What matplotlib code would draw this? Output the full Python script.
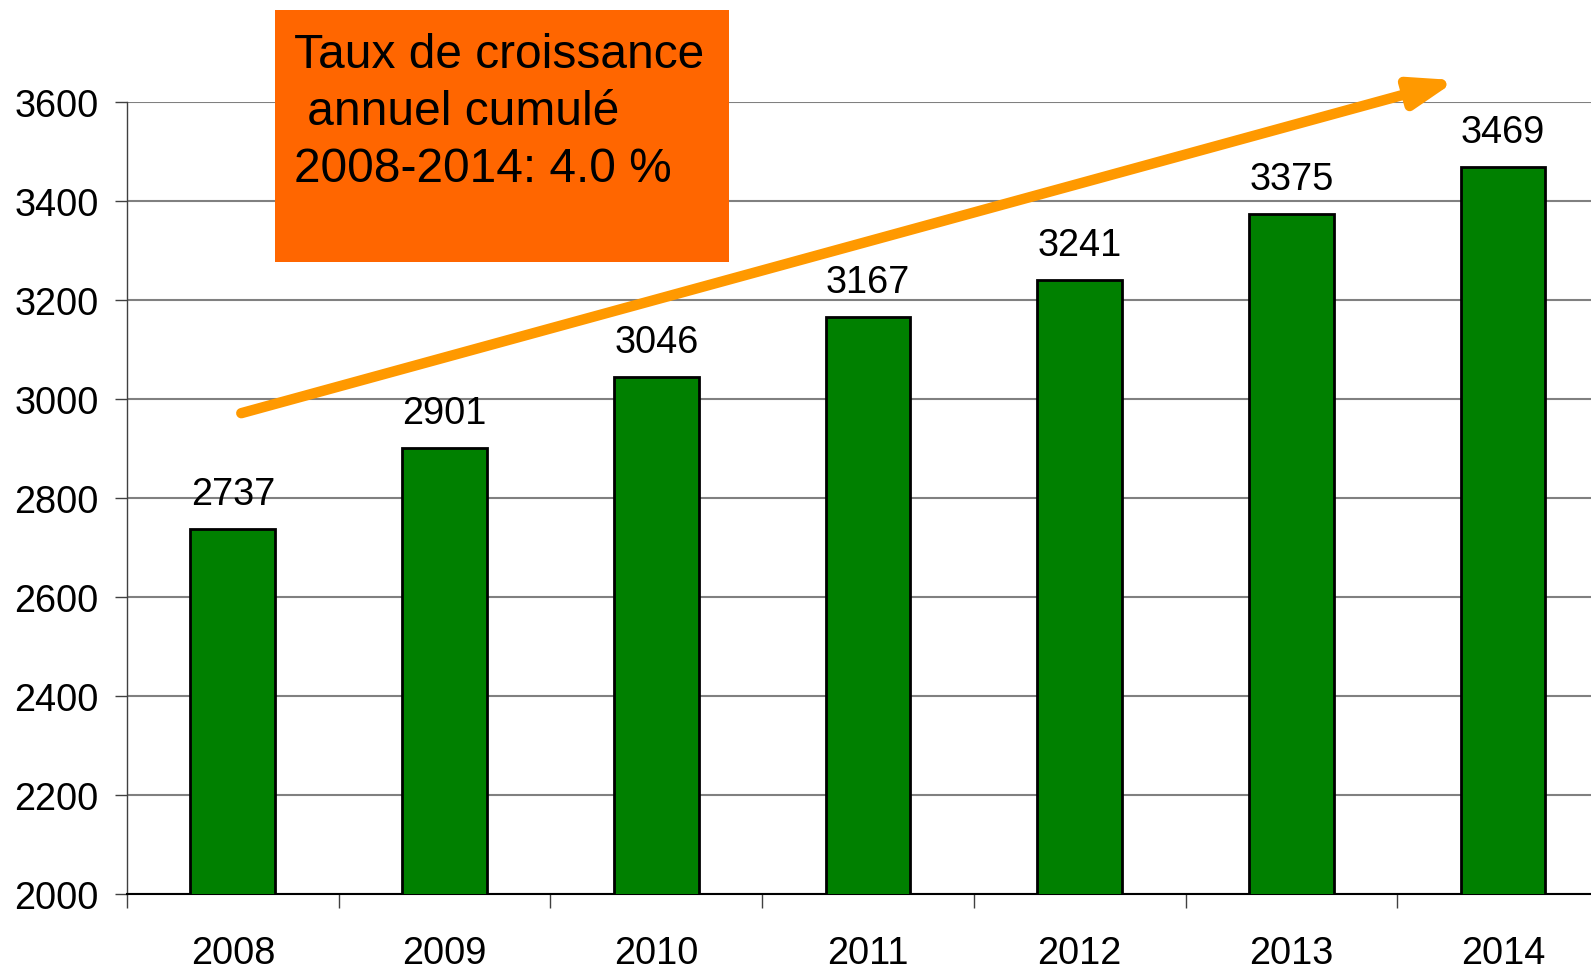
import matplotlib.pyplot as plt
from matplotlib.patches import Rectangle

years = ['2008', '2009', '2010', '2011', '2012', '2013', '2014']
values = [2737, 2901, 3046, 3167, 3241, 3375, 3469]
y_ticks = [2000, 2200, 2400, 2600, 2800, 3000, 3200, 3400, 3600]
box_lines = ['Taux de croissance', ' annuel cumulé', '2008-2014: 4.0 %']

plt.rcParams['font.family'] = ['Liberation Sans', 'DejaVu Sans']

fig = plt.figure(figsize=(15.91, 9.70), dpi=100)
ax = fig.add_axes([0.0798, 0.0773, 0.9315, 0.816])

x = list(range(len(years)))
ax.bar(x, values, width=0.4, color='#008000', edgecolor='black', linewidth=2, zorder=3)

ax.set_xlim(-0.5, len(years) - 0.5)
ax.set_ylim(2000, 3600)
ax.set_yticks(y_ticks)
ax.set_yticklabels([str(t) for t in y_ticks], fontsize=27.4)
ax.tick_params(axis='y', length=8.5, width=1, color='#404040', pad=12)

# category labels centred, ticks on boundaries
ax.set_xticks(x)
ax.set_xticklabels(years, fontsize=27.4)
ax.tick_params(axis='x', which='major', length=0, pad=29.5)
ax.set_xticks([i - 0.5 for i in range(len(years) + 1)], minor=True)
ax.tick_params(axis='x', which='minor', length=10, width=1, color='#404040')

ax.yaxis.grid(True, color='#808080', linewidth=1.5, zorder=0)
ax.set_axisbelow(True)
for s in ['top', 'right']:
    ax.spines[s].set_visible(False)
ax.spines['left'].set_color('#404040')
ax.spines['left'].set_linewidth(1)
ax.spines['bottom'].set_color('black')
ax.spines['bottom'].set_linewidth(1.5)

for xi, v in zip(x, values):
    ax.annotate(str(v), (xi, v), xytext=(0, 18), textcoords='offset points',
                ha='center', va='baseline', fontsize=27.4, zorder=4)

# growth arrow
ax.annotate('', xy=(5.78, 3645), xytext=(0.04, 2972),
            arrowprops=dict(arrowstyle='-|>,head_length=2.6,head_width=0.9',
                            color='#FF9900', lw=7.5, shrinkA=0, shrinkB=0),
            annotation_clip=False, zorder=5)

# orange text box
fig.patches.append(Rectangle((0.1728, 0.7289), 0.2854, 0.2598, transform=fig.transFigure,
                             facecolor='#FF6600', edgecolor='none', zorder=6))
for i, line in enumerate(box_lines):
    fig.text(0.1848, 1 - (55 + i * 57.5) / 970, line, fontsize=34.5, ha='left', va='center', zorder=7)

fig.savefig('out.png', dpi=100)
